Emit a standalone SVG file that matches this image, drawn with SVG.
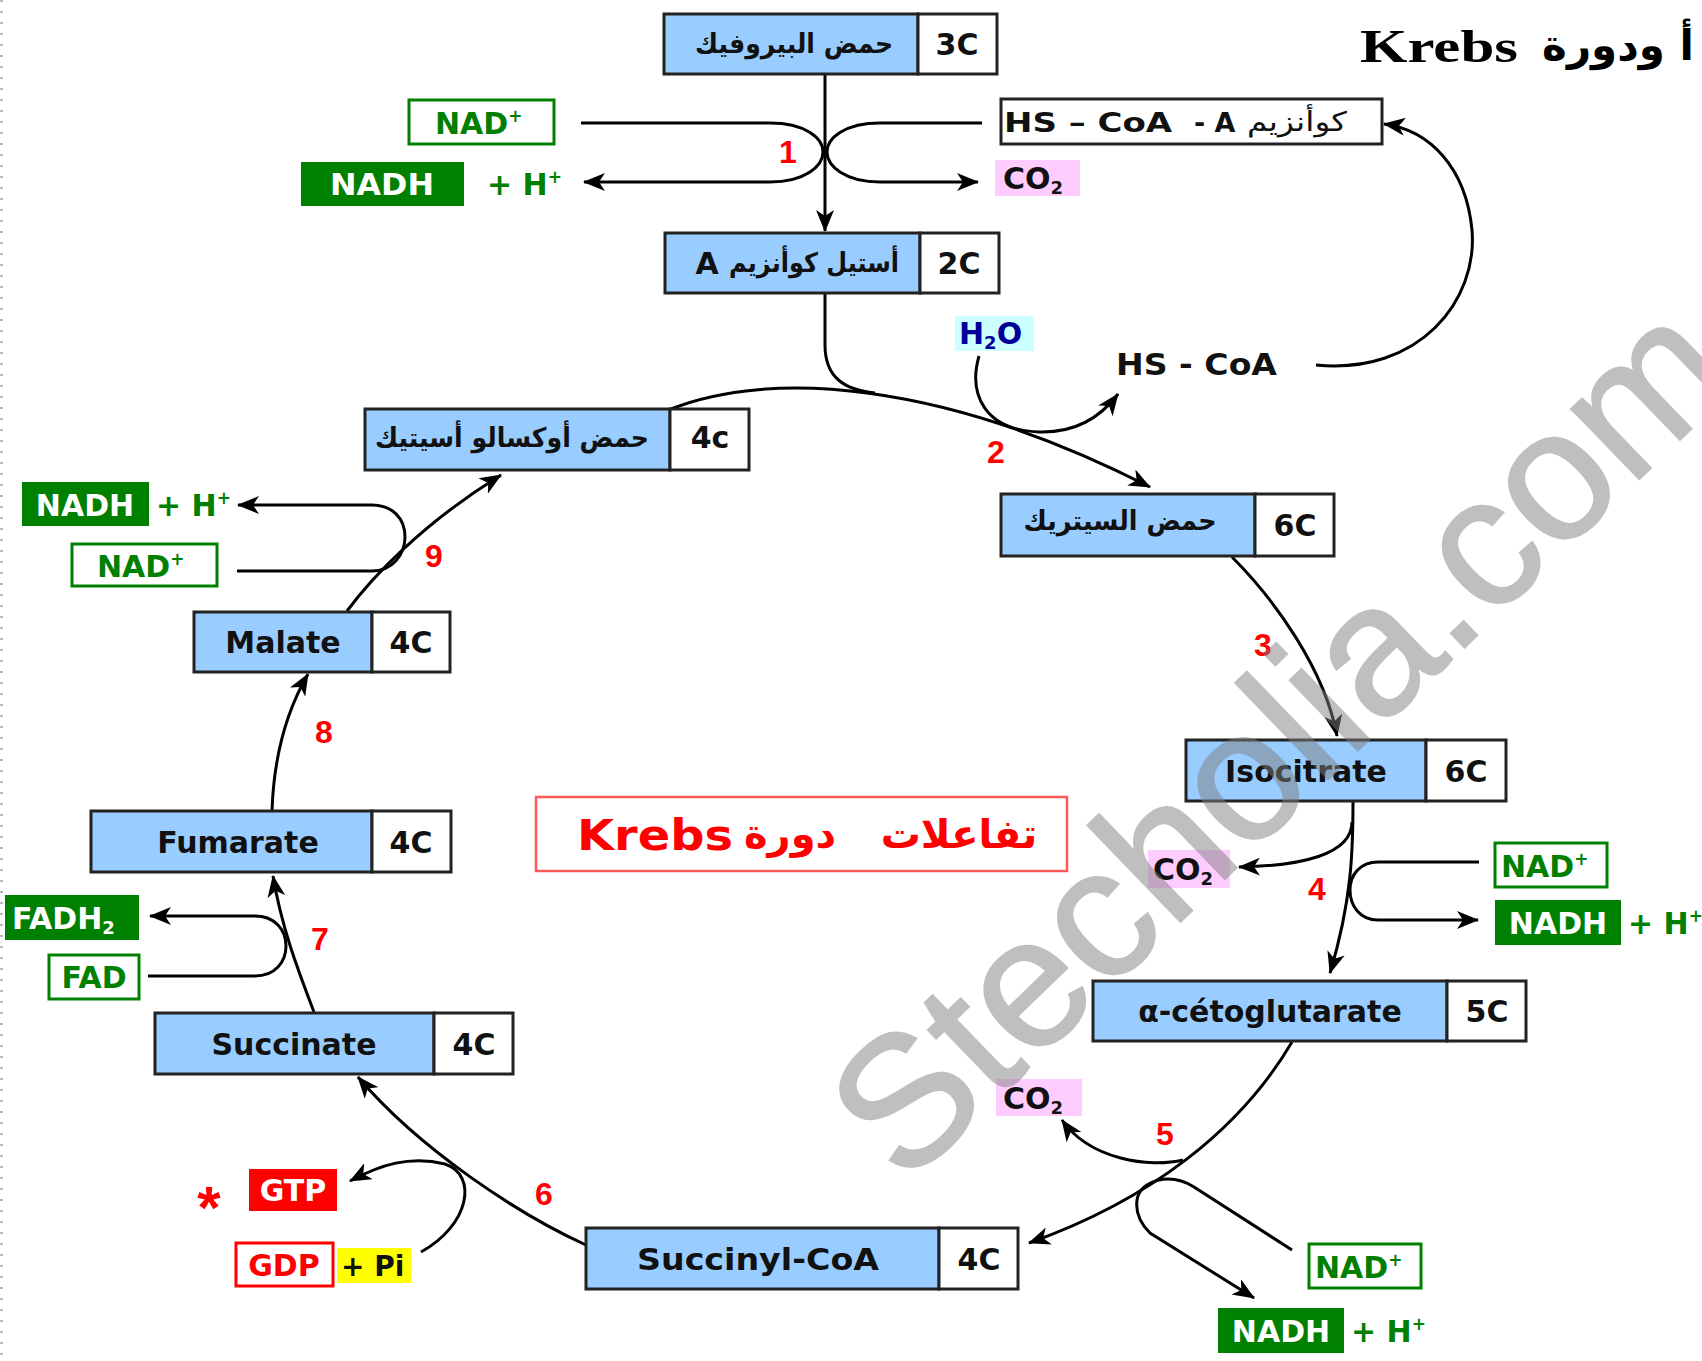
<svg xmlns="http://www.w3.org/2000/svg" width="1702" height="1361" viewBox="0 0 1702 1361">
  <defs>
    <marker id="arr" viewBox="0 0 22 18" refX="21" refY="9" markerWidth="22" markerHeight="18" markerUnits="userSpaceOnUse" orient="auto">
      <path d="M0,0 L22,9 L0,18 L6,9 z" fill="#000"/>
    </marker>
    <style>
      .bl{fill:#99ccff;stroke:#222;stroke-width:3}
      .wh{fill:#fff;stroke:#222;stroke-width:3}
      .lat{font-family:"DejaVu Sans","Noto Sans",sans-serif;font-weight:bold;font-size:30px;fill:#111}
      .ar{font-family:"DejaVu Sans","Noto Sans",sans-serif;font-weight:bold;font-size:27px;fill:#111}
      .sm{font-family:"DejaVu Sans","Noto Sans",sans-serif;font-weight:bold;font-size:30px}
      .num{font-family:"Liberation Sans",Arial,sans-serif;font-weight:bold;font-size:32px;fill:#ff0000}
      .gfill{fill:#008000}
      .gline{fill:#fff;stroke:#008000;stroke-width:3}
      .gtxt{fill:#008000}
      .wtxt{fill:#fff}
      .ln{fill:none;stroke:#000;stroke-width:3}
      .la{fill:none;stroke:#000;stroke-width:3;marker-end:url(#arr)}
    </style>
  </defs>
  <rect width="1702" height="1361" fill="#fff"/>
  <line x1="1.5" y1="0" x2="1.5" y2="1361" stroke="#999" stroke-width="2" stroke-dasharray="2,9"/>

  <!-- title -->
  <g id="title">
    <text x="1360" y="62" font-family="Liberation Serif,serif" font-weight="bold" font-size="46" textLength="158" lengthAdjust="spacingAndGlyphs">Krebs</text>
    <text x="1618" y="60" text-anchor="middle" font-family="DejaVu Sans,sans-serif" font-weight="bold" font-size="42">أ ودورة</text>
  </g>

  <!-- connectors -->
  <g id="connectors">
    <!-- 1 -->
    <path class="la" d="M825,74 V231"/>
    <path class="la" d="M581,123 H770 C805,123 823,138 823,152 C823,166 805,182 770,182 H584"/>
    <path class="la" d="M982,123 H880 C845,123 827,138 827,152 C827,166 845,182 880,182 H978"/>
    <!-- 2 -->
    <path class="ln" d="M825,294 V345 C825,378 845,390 875,393"/>
    <path class="la" d="M671,409 C770,370 940,380 1150,487"/>
    <path class="la" d="M979,356 C968,395 985,430 1039,432 C1075,433 1100,418 1118,394"/>
    <path class="la" d="M1316,365 C1420,375 1478,300 1472,230 C1466,168 1430,130 1384,124"/>
    <!-- 3 -->
    <path class="la" d="M1232,557 C1275,600 1325,670 1337,736"/>
    <!-- 4 -->
    <path class="la" d="M1353,801 C1353,850 1352,900 1330,973"/>
    <path class="la" d="M1352,822 C1352,855 1300,866 1239,867"/>
    <path class="la" d="M1479,862 H1378 C1360,862 1350,875 1350,890 C1350,906 1360,920 1378,920 H1478"/>
    <!-- 5 -->
    <path class="la" d="M1292,1042 C1240,1130 1150,1200 1029,1243"/>
    <path class="la" d="M1183,1160 C1150,1168 1090,1160 1062,1120"/>
    <path class="la" d="M1292,1250 L1194,1187 C1170,1172 1140,1180 1137,1200 C1135,1215 1142,1225 1150,1233 L1254,1298"/>
    <!-- 6 -->
    <path class="la" d="M586,1245 C520,1215 420,1150 358,1077"/>
    <path class="la" d="M421,1252 C470,1225 478,1175 445,1164 C410,1155 380,1165 350,1181"/>
    <!-- 7 -->
    <path class="la" d="M314,1012 C300,975 282,930 273,876"/>
    <path class="la" d="M148,976 H255 C275,976 286,962 286,946 C286,930 275,916 255,916 H150"/>
    <!-- 8 -->
    <path class="la" d="M272,811 C274,750 290,705 308,674"/>
    <!-- 9 -->
    <path class="la" d="M347,611 C370,580 420,525 501,475"/>
    <path class="la" d="M237,571 H372 C392,571 405,555 405,537 C405,518 392,505 372,505 H238"/>
  </g>

  <!-- metabolites -->
  <g id="pyruvate">
    <rect class="bl" x="664" y="14" width="254" height="60"/>
    <rect class="wh" x="918" y="14" width="79" height="60"/>
    <text class="ar" x="794" y="53" text-anchor="middle" textLength="198" lengthAdjust="spacingAndGlyphs">حمض البيروفيك</text>
    <text class="lat" x="957" y="55" text-anchor="middle">3C</text>
  </g>
  <g id="acetyl-coa">
    <rect class="bl" x="665" y="233" width="255" height="60"/>
    <rect class="wh" x="920" y="233" width="79" height="60"/>
    <text class="lat" x="707" y="274" text-anchor="middle">A</text>
    <text class="ar" x="814" y="272" text-anchor="middle" textLength="170" lengthAdjust="spacingAndGlyphs">أستيل كوأنزيم</text>
    <text class="lat" x="959" y="274" text-anchor="middle">2C</text>
  </g>
  <g id="oxaloacetate">
    <rect class="bl" x="365" y="409" width="305" height="61"/>
    <rect class="wh" x="670" y="409" width="79" height="61"/>
    <text class="ar" x="512" y="447" text-anchor="middle" textLength="274" lengthAdjust="spacingAndGlyphs">حمض أوكسالو أسيتيك</text>
    <text class="lat" x="710" y="448" text-anchor="middle">4c</text>
  </g>
  <g id="citrate">
    <rect class="bl" x="1001" y="494" width="254" height="62"/>
    <rect class="wh" x="1255" y="494" width="79" height="62"/>
    <text class="ar" x="1120" y="530" text-anchor="middle" textLength="193" lengthAdjust="spacingAndGlyphs">حمض السيتريك</text>
    <text class="lat" x="1295" y="536" text-anchor="middle">6C</text>
  </g>
  <g id="isocitrate">
    <rect class="bl" x="1186" y="740" width="240" height="61"/>
    <rect class="wh" x="1426" y="740" width="80" height="61"/>
    <text class="lat" x="1306" y="782" text-anchor="middle">Isocitrate</text>
    <text class="lat" x="1466" y="782" text-anchor="middle">6C</text>
  </g>
  <g id="alpha-ketoglutarate">
    <rect class="bl" x="1093" y="981" width="354" height="60"/>
    <rect class="wh" x="1447" y="981" width="79" height="60"/>
    <text class="lat" x="1270" y="1022" text-anchor="middle">α-cétoglutarate</text>
    <text class="lat" x="1487" y="1022" text-anchor="middle">5C</text>
  </g>
  <g id="succinyl-coa">
    <rect class="bl" x="586" y="1228" width="353" height="61"/>
    <rect class="wh" x="939" y="1228" width="79" height="61"/>
    <text class="lat" x="758" y="1270" text-anchor="middle" textLength="242" lengthAdjust="spacingAndGlyphs">Succinyl-CoA</text>
    <text class="lat" x="979" y="1270" text-anchor="middle">4C</text>
  </g>
  <g id="succinate">
    <rect class="bl" x="155" y="1013" width="279" height="61"/>
    <rect class="wh" x="434" y="1013" width="79" height="61"/>
    <text class="lat" x="294" y="1055" text-anchor="middle">Succinate</text>
    <text class="lat" x="474" y="1055" text-anchor="middle">4C</text>
  </g>
  <g id="fumarate">
    <rect class="bl" x="91" y="811" width="281" height="61"/>
    <rect class="wh" x="372" y="811" width="79" height="61"/>
    <text class="lat" x="238" y="853" text-anchor="middle">Fumarate</text>
    <text class="lat" x="411" y="853" text-anchor="middle">4C</text>
  </g>
  <g id="malate">
    <rect class="bl" x="194" y="612" width="178" height="60"/>
    <rect class="wh" x="372" y="612" width="78" height="60"/>
    <text class="lat" x="283" y="653" text-anchor="middle">Malate</text>
    <text class="lat" x="411" y="653" text-anchor="middle">4C</text>
  </g>

  <!-- cofactors, step 1 -->
  <g id="nad-1">
    <rect class="gline" x="409" y="100" width="145" height="44"/>
    <text class="sm gtxt" x="435" y="134">NAD<tspan font-size="17" dy="-12">+</tspan></text>
  </g>
  <g id="nadh-1">
    <rect class="gfill" x="301" y="162" width="163" height="44"/>
    <text class="sm wtxt" x="382" y="195" text-anchor="middle" textLength="104" lengthAdjust="spacingAndGlyphs">NADH</text>
    <text class="sm gtxt" x="487" y="195">+ H<tspan font-size="17" dy="-12">+</tspan></text>
  </g>
  <g id="coa-sh">
    <rect x="1001" y="99" width="381" height="45" fill="#fff" stroke="#222" stroke-width="3"/>
    <text class="sm" x="1004" y="132" style="font-size:27px" fill="#111" textLength="168" lengthAdjust="spacingAndGlyphs">HS – CoA</text>
    <text class="sm" x="1194" y="132" style="font-size:27px" fill="#111">- A</text>
    <text x="1297" y="131" text-anchor="middle" font-family="DejaVu Sans,sans-serif" font-size="27" fill="#111" textLength="100" lengthAdjust="spacingAndGlyphs">كوأنزيم</text>
  </g>
  <g id="co2-1">
    <rect x="995" y="160" width="85" height="36" fill="#ffccff"/>
    <text class="sm" x="1003" y="189" fill="#111">CO<tspan font-size="18" dy="5">2</tspan></text>
  </g>

  <!-- step 2 -->
  <g id="h2o">
    <rect x="955" y="316" width="79" height="35" fill="#ccffff"/>
    <text class="sm" x="959" y="344" fill="#000099">H<tspan font-size="18" dy="5">2</tspan><tspan dy="-5">O</tspan></text>
  </g>
  <g id="hs-coa">
    <text class="sm" x="1116" y="375" fill="#111" textLength="161" lengthAdjust="spacingAndGlyphs">HS - CoA</text>
  </g>

  <!-- step 4 -->
  <g id="co2-4">
    <rect x="1148" y="850" width="82" height="38" fill="#ffccff"/>
    <text class="sm" x="1153" y="880" fill="#111">CO<tspan font-size="18" dy="5">2</tspan></text>
  </g>
  <g id="nad-4">
    <rect class="gline" x="1495" y="843" width="112" height="44"/>
    <text class="sm gtxt" x="1501" y="877">NAD<tspan font-size="17" dy="-12">+</tspan></text>
  </g>
  <g id="nadh-4">
    <rect class="gfill" x="1495" y="900" width="126" height="45"/>
    <text class="sm wtxt" x="1558" y="934" text-anchor="middle">NADH</text>
    <text class="sm gtxt" x="1628" y="934">+ H<tspan font-size="17" dy="-12">+</tspan></text>
  </g>

  <!-- step 5 -->
  <g id="co2-5">
    <rect x="996" y="1079" width="86" height="37" fill="#ffccff"/>
    <text class="sm" x="1003" y="1109" fill="#111">CO<tspan font-size="18" dy="5">2</tspan></text>
  </g>
  <g id="nad-5">
    <rect class="gline" x="1309" y="1244" width="112" height="44"/>
    <text class="sm gtxt" x="1315" y="1278">NAD<tspan font-size="17" dy="-12">+</tspan></text>
  </g>
  <g id="nadh-5">
    <rect class="gfill" x="1218" y="1308" width="126" height="45"/>
    <text class="sm wtxt" x="1281" y="1342" text-anchor="middle">NADH</text>
    <text class="sm gtxt" x="1351" y="1342">+ H<tspan font-size="17" dy="-12">+</tspan></text>
  </g>

  <!-- step 6 -->
  <g id="gtp">
    <text class="num" x="209" y="1228" text-anchor="middle" style="font-size:60px">*</text>
    <rect x="249" y="1169" width="88" height="42" fill="#ff0000"/>
    <text class="sm wtxt" x="293" y="1201" text-anchor="middle">GTP</text>
  </g>
  <g id="gdp">
    <rect x="236" y="1243" width="97" height="43" fill="#fff" stroke="#ff0000" stroke-width="3"/>
    <text class="sm" x="284" y="1276" text-anchor="middle" fill="#ff0000">GDP</text>
    <rect x="337" y="1248" width="74" height="35" fill="#ffff00"/>
    <text class="sm" x="341" y="1276" style="font-size:28px" fill="#111">+ Pi</text>
  </g>

  <!-- step 7 -->
  <g id="fadh2">
    <rect class="gfill" x="5" y="895" width="134" height="45"/>
    <text class="sm wtxt" x="12" y="929">FADH<tspan font-size="18" dy="5">2</tspan></text>
  </g>
  <g id="fad">
    <rect class="gline" x="49" y="955" width="90" height="44"/>
    <text class="sm gtxt" x="94" y="988" text-anchor="middle">FAD</text>
  </g>

  <!-- step 9 -->
  <g id="nadh-9">
    <rect class="gfill" x="22" y="482" width="127" height="44"/>
    <text class="sm wtxt" x="85" y="516" text-anchor="middle">NADH</text>
    <text class="sm gtxt" x="156" y="516">+ H<tspan font-size="17" dy="-12">+</tspan></text>
  </g>
  <g id="nad-9">
    <rect class="gline" x="72" y="544" width="145" height="42"/>
    <text class="sm gtxt" x="97" y="577">NAD<tspan font-size="17" dy="-12">+</tspan></text>
  </g>

  <!-- step numbers -->
  <g id="steps">
    <text class="num" x="788" y="163" text-anchor="middle">1</text>
    <text class="num" x="996" y="463" text-anchor="middle">2</text>
    <text class="num" x="1263" y="656" text-anchor="middle">3</text>
    <text class="num" x="1317" y="900" text-anchor="middle">4</text>
    <text class="num" x="1165" y="1145" text-anchor="middle">5</text>
    <text class="num" x="544" y="1205" text-anchor="middle">6</text>
    <text class="num" x="320" y="950" text-anchor="middle">7</text>
    <text class="num" x="324" y="743" text-anchor="middle">8</text>
    <text class="num" x="434" y="567" text-anchor="middle">9</text>
  </g>

  <!-- central caption -->
  <g id="caption">
    <rect x="536" y="797" width="531" height="74" fill="#fff" stroke="#ff5a5a" stroke-width="2.5"/>
    <text x="577" y="850" font-family="DejaVu Sans,sans-serif" font-weight="bold" font-size="42" fill="#ff0000" textLength="156" lengthAdjust="spacingAndGlyphs">Krebs</text>
    <text x="790" y="848" text-anchor="middle" font-family="DejaVu Sans,sans-serif" font-weight="bold" font-size="40" fill="#ff0000">دورة</text>
    <text x="959" y="848" text-anchor="middle" font-family="DejaVu Sans,sans-serif" font-weight="bold" font-size="40" fill="#ff0000">تفاعلات</text>
  </g>

  <!-- site mark -->
  <g id="watermark">
    <text x="905" y="1188" transform="rotate(-44 905 1188)" font-family="Liberation Sans,Arial,sans-serif" font-size="185" fill="#808080" stroke="#808080" stroke-width="2" opacity="0.5">Stecholia.com</text>
  </g>
</svg>
